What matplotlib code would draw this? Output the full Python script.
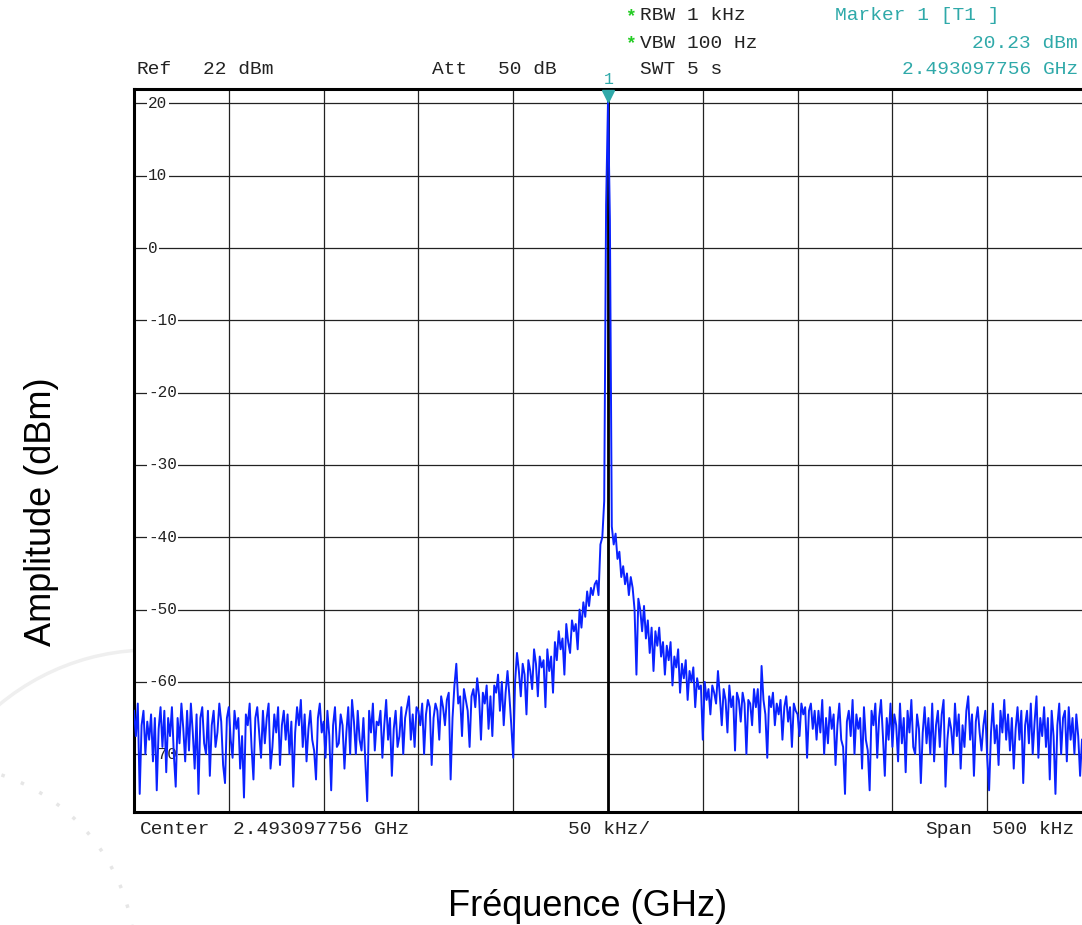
import numpy as np
import matplotlib as mpl
mpl.use('Agg')
import matplotlib.pyplot as plt
from matplotlib.patches import Arc

# -----------------------------------------------------------
W, H, dpi = 1082, 925, 100
mono = 'Liberation Mono'
sans = 'Liberation Sans'

blue = '#0a22ff'
teal = '#2fa9a9'
green = '#22cc22'
# -----------------------------------------------------------

# analyzer settings
center_ghz = 2.493097756
span_khz = 500.
ref_dbm = 22.
marker_dbm = 20.23
y_labels = [20, 10, 0, -10, -20, -30, -40, -50, -60, -70]
x_grid_khz = [-200, -150, -100, -50, 0, 50, 100, 150, 200]

# sweep points, -250 .. +250 kHz (501 points)
floor_left = [
    -64.0, -67.5, -63.0, -75.5, -66.0, -64.0, -70.0, -65.5, -68.0, -64.5,
    -71.0, -65.0, -75.0, -66.5, -63.5, -69.0, -64.0, -72.5, -65.0, -67.5,
    -63.5, -70.0, -74.5, -65.0, -68.5, -63.0, -66.5, -71.0, -64.0, -69.5,
    -63.0, -67.0, -72.0, -64.5, -75.5, -65.0, -63.5, -68.5, -70.0, -64.0,
    -73.0, -66.0, -64.0, -69.0, -67.0, -63.0, -65.5, -71.5, -74.0, -65.0,
    -63.5, -68.0, -70.5, -64.0, -66.5, -65.0, -72.0, -67.5, -76.0, -64.5,
    -66.0, -63.0, -69.0, -73.5, -65.0, -63.5, -67.0, -70.5, -64.0, -68.5,
    -65.0, -63.0, -72.0, -69.0, -64.5, -67.0, -63.5, -71.5, -66.0, -64.0,
    -68.0, -64.5, -70.0, -65.5, -74.5, -67.0, -63.5, -66.0, -62.5, -69.0,
    -64.5, -71.0, -66.5, -64.0, -68.0, -69.5, -73.5, -65.0, -63.0, -67.0,
    -65.5, -70.5, -64.0, -67.5, -75.0, -66.0, -63.5, -69.0, -68.5, -64.5,
    -66.0, -72.0, -67.0, -63.5, -70.0, -62.5, -65.5, -70.0, -64.0, -68.0,
    -69.5, -65.0, -71.0, -76.5, -64.0, -67.0, -63.0, -69.5, -65.5, -66.0,
    -64.0, -70.5, -66.0, -62.5, -68.0, -65.0, -73.0, -66.5, -64.0, -69.0,
    -67.5, -63.5, -70.0, -65.0, -63.5, -62.0, -68.0, -64.5, -69.0, -63.5,
]
skirt_left = [
    -64.0, -66.0, -63.0, -70.0, -64.5, -62.5, -63.5, -71.5, -65.0, -63.0,
    -64.0, -68.0, -62.0, -63.5, -66.0, -62.5, -61.5, -73.5, -65.0, -60.5,
    -57.5, -63.0, -62.0, -67.5, -61.0, -62.5, -64.0, -69.0, -62.0, -61.0,
    -63.5, -59.5, -62.0, -68.0, -61.5, -63.0, -60.5, -66.5, -62.0, -67.5,
    -60.5, -61.5, -59.0, -64.0, -60.0, -66.0, -61.5, -58.5, -62.0, -66.0,
    -70.5, -60.0, -56.0, -58.5, -62.0, -57.5, -59.0, -64.5, -57.0, -58.5,
    -61.0, -55.5, -57.5, -62.0, -56.5, -58.0, -57.0, -63.5, -55.5, -58.5,
    -56.5, -61.5, -54.5, -57.0, -53.0, -55.5, -54.0, -59.0, -52.0, -54.5,
    -56.0, -51.5, -53.0, -52.0, -55.5, -50.0, -52.5, -49.0, -51.0, -47.5,
    -49.5, -47.0, -48.0, -46.5, -46.0, -48.0, -41.0, -40.0,
]
carrier = [-35.0, 6.0, marker_dbm, 4.0]
skirt_right = [
    -38.5, -41.0, -39.5, -43.0, -42.0, -45.5, -44.0, -46.5, -45.0,
    -48.0, -45.5, -47.0, -50.0, -59.0, -48.5, -50.0, -53.0, -49.5, -54.0,
    -51.5, -56.0, -52.5, -58.5, -53.0, -55.0, -52.5, -56.5, -54.5,
    -59.0, -55.0, -57.0, -54.5, -60.5, -56.5, -58.0, -55.5, -61.5, -57.5,
    -59.5, -57.0, -62.5, -58.5, -60.0, -58.0, -63.5, -59.5, -61.0, -60.5,
    -68.0,
    -60.0, -62.5, -61.0, -64.5, -60.5, -61.5, -63.0, -58.5, -62.0, -66.0,
    -61.0, -62.5, -67.0, -60.5, -63.5, -62.0, -69.5, -61.5, -62.5, -65.5,
    -61.5, -63.0, -70.0, -62.5, -63.0, -66.0, -61.0, -63.5, -61.0, -67.0,
    -57.8, -62.5, -64.5, -70.5, -62.0, -63.5, -61.5, -66.0, -63.0, -64.5,
    -62.5, -68.0, -63.5, -62.0, -65.5, -63.5, -69.0, -63.0, -64.0, -64.5,
    -67.5, -63.0, -64.5, -63.5, -70.5, -64.0, -63.0, -66.5, -64.0, -68.0,
]
floor_right = [
    -64.0, -67.0, -62.5, -70.0, -65.0, -68.5, -63.5, -66.5, -64.5, -71.5,
    -66.0, -63.0, -68.0, -69.0, -75.5, -65.5, -64.0, -67.5, -62.5, -70.0,
    -64.5, -66.5, -65.0, -72.0, -63.5, -68.0, -69.5, -75.0, -64.0, -66.0,
    -63.0, -70.5, -65.0, -62.5, -67.5, -73.0, -65.0, -68.0, -63.0, -69.0,
    -64.5, -66.0, -71.0, -63.0, -68.5, -65.0, -72.5, -64.0, -67.0, -62.5,
    -69.0, -70.0, -64.5, -66.5, -74.0, -67.0, -63.5, -68.5, -65.0, -70.0,
    -63.0, -71.0, -66.0, -64.0, -69.0, -64.5, -62.5, -74.5, -68.0, -65.0,
    -66.5, -70.0, -63.0, -67.5, -64.5, -72.0, -66.0, -69.0, -64.0, -62.0,
    -68.0, -64.5, -73.0, -65.5, -63.5, -67.0, -69.5, -66.0, -64.0, -70.5,
    -75.0, -67.0, -63.0, -68.5, -66.0, -71.5, -64.0, -67.0, -62.5, -68.0,
    -64.5, -69.5, -65.0, -72.0, -66.5, -63.5, -68.0, -64.0, -74.0, -66.0,
    -64.0, -68.5, -63.0, -70.0, -65.5, -62.0, -70.5, -65.0, -67.5, -63.5,
    -69.0, -65.0, -73.5, -64.0, -67.5, -75.5, -66.0, -63.0, -70.0, -65.0,
    -64.0, -71.0, -63.5, -68.0, -65.0, -70.0, -64.5, -67.5, -73.0, -68.0,
]

trace = np.concatenate([floor_left, skirt_left, carrier, skirt_right, floor_right])
offset_khz = np.linspace(-span_khz/2, span_khz/2, len(trace))


def px(x, y):
    # pixel position -> figure fraction
    return x/W, 1 - y/H


fig = plt.figure(figsize=(W/dpi, H/dpi), dpi=dpi, facecolor='white')

# faint logo behind everything
bg = fig.add_axes([0, 0, 1, 1], zorder=-5)
bg.set_xlim(0, W)
bg.set_ylim(H, 0)
bg.axis('off')
bg.add_patch(Arc((150, 885), 470, 470, theta1=180, theta2=280, ec='#efefef', lw=2.5))
bg.add_patch(Arc((-60, 960), 390, 390, theta1=270, theta2=360, ec='#e6e6e6',
                 lw=2.5, ls=(0, (1, 5))))

l, b = px(134, 812)
ax = fig.add_axes([l, b, (W - 134)/W, (812 - 89)/H])
ax.set_xlim(-span_khz/2, span_khz/2)
ax.set_ylim(ref_dbm - 100, ref_dbm)

for side in ['left', 'top', 'bottom']:
    ax.spines[side].set_linewidth(2.2)
ax.spines['right'].set_visible(False)

ax.set_xticks(x_grid_khz)
ax.set_yticks(y_labels)
ax.tick_params(length=0, labelleft=False, labelbottom=False)
ax.set_axisbelow(True)
ax.grid(color='#222222', lw=0.9)
ax.axvline(0, color='black', lw=2.0, zorder=1)

for v in y_labels:
    ax.text(0.0148, v, str(v), transform=ax.get_yaxis_transform(),
            ha='left', va='center', fontsize=11.5, family=mono, color='#222222',
            zorder=2, bbox=dict(fc='white', ec='none', pad=1.0))

ax.plot(offset_khz, trace, color=blue, lw=1.4, zorder=3)

# marker 1 on the carrier
ax.plot([0], [marker_dbm + 0.8], marker='v', ms=8, color=teal, mec=teal,
        clip_on=False, zorder=4)
fig.text(*px(609, 80), '1', ha='center', va='center', fontsize=12,
         family=mono, color=teal)

# header
hdr = dict(va='center', fontsize=14, family=mono, color='#222222')
fig.text(*px(137, 70), 'Ref', **hdr)
fig.text(*px(203, 70), '22 dBm', **hdr)
fig.text(*px(432, 70), 'Att', **hdr)
fig.text(*px(498, 70), '50 dB', **hdr)
fig.text(*px(625, 17), '*', va='center', fontsize=13, family=mono,
         color=green, fontweight='bold')
fig.text(*px(640, 16), 'RBW 1 kHz', **hdr)
fig.text(*px(625, 44), '*', va='center', fontsize=13, family=mono,
         color=green, fontweight='bold')
fig.text(*px(640, 43), 'VBW 100 Hz', **hdr)
fig.text(*px(640, 69), 'SWT 5 s', **hdr)

mk = dict(va='center', fontsize=14, family=mono, color=teal)
fig.text(*px(835, 16), 'Marker 1 [T1 ]', **mk)
fig.text(*px(1078, 43), f'{marker_dbm:.2f} dBm', ha='right', **mk)
fig.text(*px(1078, 69), f'{center_ghz:.9f} GHz', ha='right', **mk)

# footer
fig.text(*px(140, 830), 'Center', **hdr)
fig.text(*px(233, 830), f'{center_ghz:.9f} GHz', **hdr)
fig.text(*px(568, 830), f'{span_khz/10:.0f} kHz/', **hdr)
fig.text(*px(925, 830), 'Span', **hdr)
fig.text(*px(992, 830), f'{span_khz:.0f} kHz', **hdr)

fig.text(*px(588, 907), 'Fréquence (GHz)', ha='center', va='center',
         fontsize=26, family=sans)
fig.text(*px(42, 512), 'Amplitude (dBm)', ha='center', va='center',
         rotation=90, fontsize=26, family=sans)

plt.savefig('out.png', dpi=dpi)
